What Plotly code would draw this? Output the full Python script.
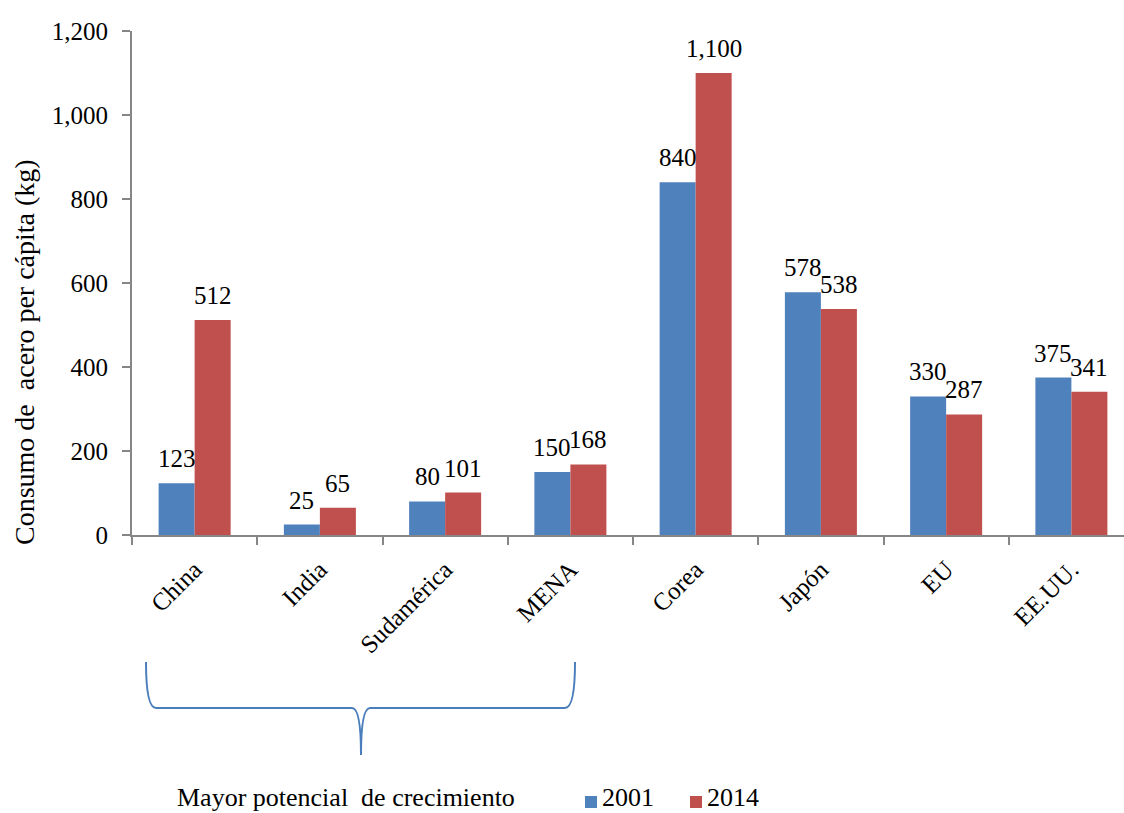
import plotly.graph_objects as go

# Consumo de acero per cápita (kg), 2001 vs 2014
regions = ["China", "India", "Sudamérica", "MENA", "Corea", "Japón", "EU", "EE.UU."]
consumo_2001 = [123, 25, 80, 150, 840, 578, 330, 375]
consumo_2014 = [512, 65, 101, 168, 1100, 538, 287, 341]
years = ["2001", "2014"]
y_ticks = [0, 200, 400, 600, 800, 1000, 1200]

BLUE = "#4F81BD"
RED = "#C0504D"
AXIS = "#868686"
SERIF = "Liberation Serif"

W, H = 1124, 813
M_L, M_R, M_T, M_B = 132, 0, 31, 278
PLOT_W = W - M_L - M_R
PLOT_H = H - M_T - M_B


def px(x):
    """Horizontal pixel -> paper coordinate."""
    return (x - M_L) / PLOT_W


def py(y):
    """Vertical pixel -> paper coordinate."""
    return (H - M_B - y) / PLOT_H


fig = go.Figure()
colors = [BLUE, RED]
for name, vals, col in zip(years, [consumo_2001, consumo_2014], colors):
    fig.add_trace(go.Bar(
        x=regions, y=vals, name=name,
        marker=dict(color=col, line=dict(width=0)),
        showlegend=False,
    ))

# value labels above each bar
bar_half_offset = 18
for vals, shift in [(consumo_2001, -bar_half_offset), (consumo_2014, bar_half_offset)]:
    for reg, v in zip(regions, vals):
        fig.add_annotation(
            x=reg, y=v, xref="x", yref="y", text=f"{v:,}",
            showarrow=False, xshift=shift, yshift=9,
            xanchor="center", yanchor="bottom",
            font=dict(family=SERIF, size=25, color="black"),
        )

# y axis title
fig.add_annotation(
    x=px(24), y=py(352), xref="paper", yref="paper",
    text="Consumo de  acero per cápita (kg)", textangle=-90,
    showarrow=False, xanchor="center", yanchor="middle",
    font=dict(family=SERIF, size=28, color="black"),
)

# brace grouping the first four regions
brace = [
    (146, 662), (146, 708), (156, 708),
    (352, 708), (361, 708), (361, 755),
    (361, 708), (370, 708),
    (565, 708), (575, 708), (575, 662),
]
p = [(px(a), py(b)) for a, b in brace]
path = (
    f"M {p[0][0]},{p[0][1]} Q {p[1][0]},{p[1][1]} {p[2][0]},{p[2][1]} "
    f"L {p[3][0]},{p[3][1]} Q {p[4][0]},{p[4][1]} {p[5][0]},{p[5][1]} "
    f"Q {p[6][0]},{p[6][1]} {p[7][0]},{p[7][1]} "
    f"L {p[8][0]},{p[8][1]} Q {p[9][0]},{p[9][1]} {p[10][0]},{p[10][1]}"
)
fig.add_shape(type="path", path=path, xref="paper", yref="paper",
              line=dict(color="#4A7EBB", width=2))

fig.add_annotation(
    x=px(346), y=py(813), xref="paper", yref="paper",
    text="Mayor potencial  de crecimiento", showarrow=False,
    xanchor="center", yanchor="bottom", borderpad=0,
    font=dict(family=SERIF, size=26, color="black"),
)

# legend: colour swatch followed by the year
legend_left = [585, 690]
for yr, col, x0 in zip(years, colors, legend_left):
    fig.add_shape(type="rect", xref="paper", yref="paper",
                  x0=px(x0), x1=px(x0 + 12), y0=py(808), y1=py(796),
                  fillcolor=col, line=dict(width=0))
    fig.add_annotation(
        x=px(x0 + 16), y=py(813), xref="paper", yref="paper",
        text=yr, showarrow=False, xanchor="left", yanchor="bottom", borderpad=0,
        font=dict(family=SERIF, size=26, color="black"),
    )

fig.update_layout(
    width=W, height=H,
    margin=dict(l=M_L, r=M_R, t=M_T, b=M_B, autoexpand=False),
    paper_bgcolor="white", plot_bgcolor="white",
    barmode="group", bargap=0.425, bargroupgap=0,
    font=dict(family=SERIF, size=26, color="black"),
    showlegend=False,
    xaxis=dict(
        type="category", range=[-0.5, 7.42],
        showline=True, linecolor=AXIS, linewidth=2,
        ticks="outside", tickson="boundaries", ticklen=8, tickcolor=AXIS, tickwidth=2,
        tickangle=-45, ticklabelstandoff=8,
        tickfont=dict(family=SERIF, size=25, color="black"),
        showgrid=False, zeroline=False,
    ),
    yaxis=dict(
        range=[0, 1200], tickvals=y_ticks, tickformat=",",
        showline=True, linecolor=AXIS, linewidth=2,
        ticks="outside", ticklen=8, tickcolor=AXIS, tickwidth=2,
        ticklabelstandoff=9,
        tickfont=dict(family=SERIF, size=25, color="black"),
        showgrid=False, zeroline=False,
    ),
)

fig.write_html("out.html")
